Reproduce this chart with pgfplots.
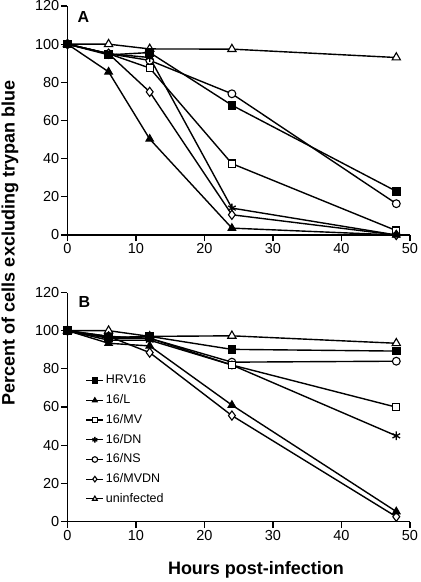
\documentclass[border=0pt]{standalone}
\usepackage{pgfplots}
\pgfplotsset{compat=1.18}
\usepackage{fontspec}
\setmainfont{Liberation Sans}
\begin{document}
\begin{tikzpicture}
\pgfplotsset{
  panel/.style={
    scale only axis, width=342.5pt, height=229pt,
    xmin=0, xmax=50, ymin=0, ymax=120,
    axis lines=left, axis line style={line width=1.4pt, -},
    xtick={0,10,...,50}, ytick={0,20,...,120},
    tick align=outside, major tick length=6.5pt,
    tick style={line width=1.3pt, black},
    tick label style={font=\fontsize{14.5}{14.5}\selectfont},
    xticklabel style={inner sep=2pt},
    yticklabel style={inner sep=1.5pt},
    /pgf/number format/assume math mode=true,
    clip=false,
    every axis plot/.append style={line width=1.4pt, black},
  },
  sq/.style={mark=square*, mark size=3.8pt, mark options={solid, fill=black, line width=1pt}},
  tri/.style={mark=triangle*, mark size=4.4pt, mark options={solid, fill=black, line width=1pt}},
  osq/.style={mark=square*, mark size=3.6pt, mark options={solid, fill=white, line width=1.1pt}},
  ast/.style={mark=asterisk, mark size=4.4pt, mark options={solid, line width=1.3pt}},
  circ/.style={mark=*, mark size=3.9pt, mark options={solid, fill=white, line width=1.1pt}},
  dia/.style={mark=diamond*, mark size=4.6pt, mark options={solid, fill=white, line width=1.1pt}},
  otri/.style={mark=triangle*, mark size=4.8pt, mark options={solid, fill=white, line width=1.1pt}},
}
\path[use as bounding box] (0,0) rectangle (421pt,582pt);
% Panel A
\begin{axis}[panel, at={(67.5pt,347pt)}, anchor=origin]
\addplot[otri] coordinates {(0,100) (6,100) (12,97.5) (24,97.4) (48,93)};
\addplot[circ] coordinates {(0,100) (6,95) (12,91.5) (24,74) (48,16.4)};
\addplot[osq] coordinates {(0,100) (6,95) (12,87.5) (24,37.4) (48,2.3)};
\addplot[ast] coordinates {(0,100) (6,95) (12,93) (24,14.1) (48,0)};
\addplot[dia] coordinates {(0,100) (6,95) (12,75) (24,10.6) (48,0)};
\addplot[tri] coordinates {(0,100) (6,85.5) (12,50.3) (24,3.6) (48,0)};
\addplot[sq] coordinates {(0,100) (6,94.4) (12,95.6) (24,68) (48,22.9)};
\end{axis}
% Panel B
\begin{axis}[panel, at={(67.5pt,60.5pt)}, anchor=origin,
  legend style={draw=none, fill=none, at={(axis cs:2.2,79)}, anchor=north west,
    font=\fontsize{12.5}{12.5}\selectfont,
    nodes={text height=9pt, text depth=2.5pt, inner sep=2pt}, row sep=4.2pt},
  legend cell align=left,
  legend image code/.code={\draw[line width=1.2pt] (0pt,0pt) -- (17pt,0pt);
    \draw[line width=1pt, mark size=2.8pt] plot coordinates {(8.5pt,0pt)};},
  reverse legend]
\addplot[otri] coordinates {(0,100) (6,100) (12,97) (24,97.3) (48,93.4)};
\addlegendentry{uninfected}
\addplot[dia] coordinates {(0,100) (6,97) (12,88.5) (24,55.5) (48,2.5)};
\addlegendentry{16/MVDN}
\addplot[circ] coordinates {(0,100) (6,97) (12,96) (24,83.5) (48,84)};
\addlegendentry{16/NS}
\addplot[ast] coordinates {(0,100) (6,95) (12,95) (24,82) (48,44.9)};
\addlegendentry{16/DN}
\addplot[osq] coordinates {(0,100) (6,96) (12,96) (24,82) (48,59.9)};
\addlegendentry{16/MV}
\addplot[tri] coordinates {(0,100) (6,93.4) (12,92) (24,61) (48,5.2)};
\addlegendentry{16/L}
\addplot[sq] coordinates {(0,100) (6,96.4) (12,97) (24,90.2) (48,89.3)};
\addlegendentry{HRV16}
\end{axis}
\node[font=\bfseries\fontsize{16}{16}\selectfont] at (83.5pt,565.5pt) {A};
\node[font=\bfseries\fontsize{16}{16}\selectfont] at (84.5pt,280pt) {B};
\node[font=\bfseries\fontsize{18}{18}\selectfont, rotate=90] at (10pt,339pt) {Percent of cells excluding trypan blue};
\node[font=\bfseries\fontsize{18}{18}\selectfont] at (256pt,12pt) {Hours post-infection};
\end{tikzpicture}
\end{document}
